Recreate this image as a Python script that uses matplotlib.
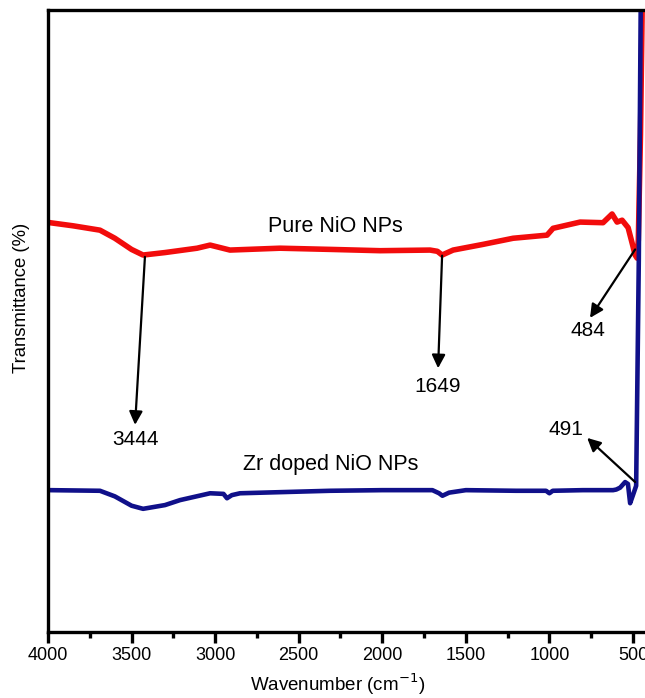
import matplotlib.pyplot as plt
from matplotlib.ticker import MultipleLocator, NullLocator

plt.rcParams['font.family'] = ['Liberation Sans', 'DejaVu Sans']

# FTIR spectra (wavenumber in cm^-1, transmittance in arbitrary units)
pure_wn = [4000, 3988, 3850, 3689, 3600, 3500, 3431, 3300, 3108, 3030, 2911, 2612, 2300,
           2013, 1714, 1670, 1642, 1576, 1400, 1217, 1014, 978, 816, 679, 625, 595, 565,
           529, 500, 487, 475, 468, 455, 440]
pure_t = [65.9, 65.8, 65.3, 64.6, 63.3, 61.5, 60.6, 61.0, 61.7, 62.2, 61.4, 61.7, 61.5,
          61.3, 61.4, 61.2, 60.6, 61.4, 62.3, 63.3, 63.8, 64.9, 65.9, 65.8, 67.2, 65.9, 66.2,
          65.0, 62.0, 60.6, 60.1, 63.0, 80.0, 110.0]

zr_wn = [4000, 3988, 3689, 3600, 3500, 3431, 3300, 3210, 3030, 2950, 2929, 2900, 2851,
         2312, 2000, 1700, 1660, 1640, 1600, 1500, 1200, 1020, 1000, 980, 800, 619, 600,
         577, 547, 530, 517, 500, 481, 465, 451]
zr_t = [22.8, 22.8, 22.7, 21.8, 20.3, 19.8, 20.4, 21.2, 22.3, 22.2, 21.5, 22.0, 22.3,
        22.7, 22.8, 22.8, 22.3, 21.9, 22.4, 22.8, 22.7, 22.7, 22.3, 22.7, 22.8, 22.8, 22.9,
        23.2, 24.1, 23.8, 20.7, 22.0, 23.5, 60.0, 110.0]

# peak annotations: label, point on curve, arrow head, label position
peak_labels = ['3444', '1649', '484', '491']
peak_xy = [(3420, 60.3), (1642, 60.5), (487, 61.5), (487, 24.1)]
head_xy = [(3479, 33.3), (1666, 42.4), (757, 50.5), (774, 31.2)]
peak_text = [(3479, 31.0), (1666, 39.5), (770, 48.4), (900, 32.6)]

fig = plt.figure(figsize=(6.45, 6.98), dpi=100)
ax = fig.add_axes([0.0744, 0.0946, 0.9256, 0.8911])

ax.plot(pure_wn, pure_t, color='#f20c0c', lw=4.0, solid_capstyle='round')
ax.plot(zr_wn, zr_t, color='#10108a', lw=3.3, solid_capstyle='round')

ax.set_xlim(4000, 428)
ax.set_ylim(0, 100)

for lab, tail, head, txt in zip(peak_labels, peak_xy, head_xy, peak_text):
    ax.annotate('', xy=head, xytext=tail,
                arrowprops=dict(arrowstyle='-|>', color='black', lw=1.6,
                                mutation_scale=20, shrinkA=0, shrinkB=0))
    ax.text(txt[0], txt[1], lab, ha='center', va='center', fontsize=15)

ax.text(2280, 65.2, 'Pure NiO NPs', ha='center', va='center', fontsize=15.5)
ax.text(2310, 27.0, 'Zr doped NiO NPs', ha='center', va='center', fontsize=15.5)

for side in ['left', 'bottom', 'top']:
    ax.spines[side].set_linewidth(2.4)
ax.spines['right'].set_visible(False)

ax.xaxis.set_major_locator(MultipleLocator(500))
ax.xaxis.set_minor_locator(MultipleLocator(250))
ax.tick_params(axis='x', which='major', direction='out', length=8, width=2.4,
               labelsize=13, pad=3)
ax.tick_params(axis='x', which='minor', direction='out', length=4, width=2.4)
ax.yaxis.set_major_locator(NullLocator())

ax.set_xlabel('Wavenumber (cm$^{-1}$)', fontsize=13.5)
ax.set_ylabel('Transmittance (%)', fontsize=13.3)
ax.xaxis.set_label_coords(0.485, -0.064)
ax.yaxis.set_label_coords(-0.03, 0.537)

fig.savefig('out.png', dpi=100)
